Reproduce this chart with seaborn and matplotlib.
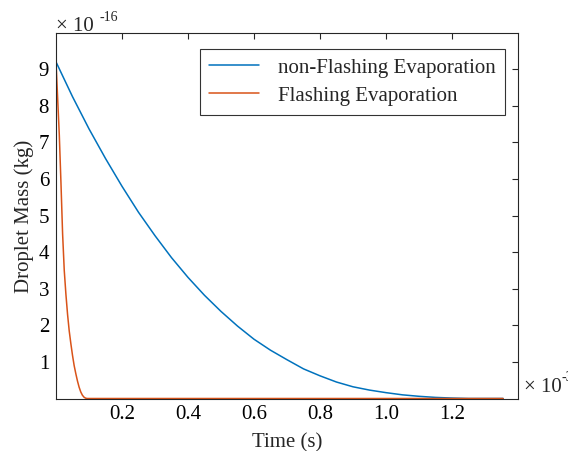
import matplotlib
matplotlib.use("Agg")
import matplotlib.pyplot as plt
import seaborn as sns
import pandas as pd

# Time in units of 1e-3 s, mass in units of 1e-16 kg
time_nonflash = [0.0, 0.05, 0.1, 0.15, 0.2, 0.25, 0.3, 0.35, 0.4, 0.45, 0.5, 0.55, 0.6,
                 0.65, 0.7, 0.75, 0.8, 0.85, 0.9, 0.95, 1.0, 1.05, 1.1, 1.15, 1.2, 1.25, 1.355]
mass_nonflash = [9.2, 8.25, 7.37, 6.56, 5.80, 5.09, 4.45, 3.85, 3.31, 2.82, 2.38, 1.98, 1.62,
                 1.32, 1.06, 0.81, 0.62, 0.45, 0.32, 0.23, 0.16, 0.10, 0.06, 0.03, 0.012, 0.0, 0.0]

time_flash = [0.0, 0.005, 0.01, 0.015, 0.02, 0.025, 0.03, 0.035, 0.04, 0.045, 0.05, 0.055,
              0.06, 0.065, 0.07, 0.075, 0.08, 0.085, 0.09, 0.095, 1.355]
mass_flash = [9.2, 8.2, 7.2, 5.9, 4.5, 3.5, 2.85, 2.3, 1.85, 1.5, 1.18, 0.9,
              0.68, 0.48, 0.31, 0.18, 0.09, 0.035, 0.008, 0.0, 0.0]

series_names = ["non-Flashing Evaporation", "Flashing Evaporation"]
series_colors = ["#0072BD", "#D95319"]
x_ticks = [0.2, 0.4, 0.6, 0.8, 1.0, 1.2]
x_ticklabels = ["0.2", "0.4", "0.6", "0.8", "1.0", "1.2"]
y_ticks = [1, 2, 3, 4, 5, 6, 7, 8, 9]

df = pd.concat([
    pd.DataFrame({"t": time_nonflash, "m": mass_nonflash, "s": series_names[0]}),
    pd.DataFrame({"t": time_flash, "m": mass_flash, "s": series_names[1]}),
])

sns.set_style("white")
plt.rcParams["font.family"] = ["Liberation Serif", "DejaVu Serif"]

FS = 15
fig = plt.figure(figsize=(5.68, 4.51), dpi=100)
ax = fig.add_axes([0.0986, 0.1164, 0.9114 - 0.0986, 0.926 - 0.1164])

sns.lineplot(data=df, x="t", y="m", hue="s", palette=series_colors, ax=ax,
             linewidth=1.1, sort=False, estimator=None)

ax.set_xlim(0, 1.399)
ax.set_ylim(0, 9.98)
ax.set_xticks(x_ticks)
ax.set_xticklabels(x_ticklabels)
ax.set_yticks(y_ticks)
ax.tick_params(direction="in", length=4, width=0.8, colors="#262626",
               top=True, right=True, labelsize=FS, pad=5)
for lbl in ax.get_xticklabels() + ax.get_yticklabels():
    lbl.set_color("black")
for sp in ax.spines.values():
    sp.set_color("#262626")
    sp.set_linewidth(0.8)

ax.set_xlabel("Time (s)", fontsize=FS, labelpad=6)
ax.set_ylabel("Droplet Mass (kg)", fontsize=FS, labelpad=3)

leg = ax.legend(loc="upper right", bbox_to_anchor=(0.9725, 0.958), borderaxespad=0,
                fontsize=FS, frameon=True, fancybox=False, edgecolor="black",
                handlelength=2.4, borderpad=0.45, labelspacing=0.4, handletextpad=0.9)
leg.get_frame().set_linewidth(0.8)
leg.set_title(None)

# axis multipliers
fig.text(56 / 568, 1 - 31 / 451, "\u00d7 10", fontsize=FS, ha="left", va="baseline")
fig.text(100 / 568, 1 - 21 / 451, "-16", fontsize=10, ha="left", va="baseline")
fig.text(524 / 568, 1 - 392 / 451, "\u00d7 10", fontsize=FS, ha="left", va="baseline")
fig.text(561 / 568, 1 - 381 / 451, "-3", fontsize=10, ha="left", va="baseline", clip_on=False)

fig.savefig("out.png", dpi=100)
